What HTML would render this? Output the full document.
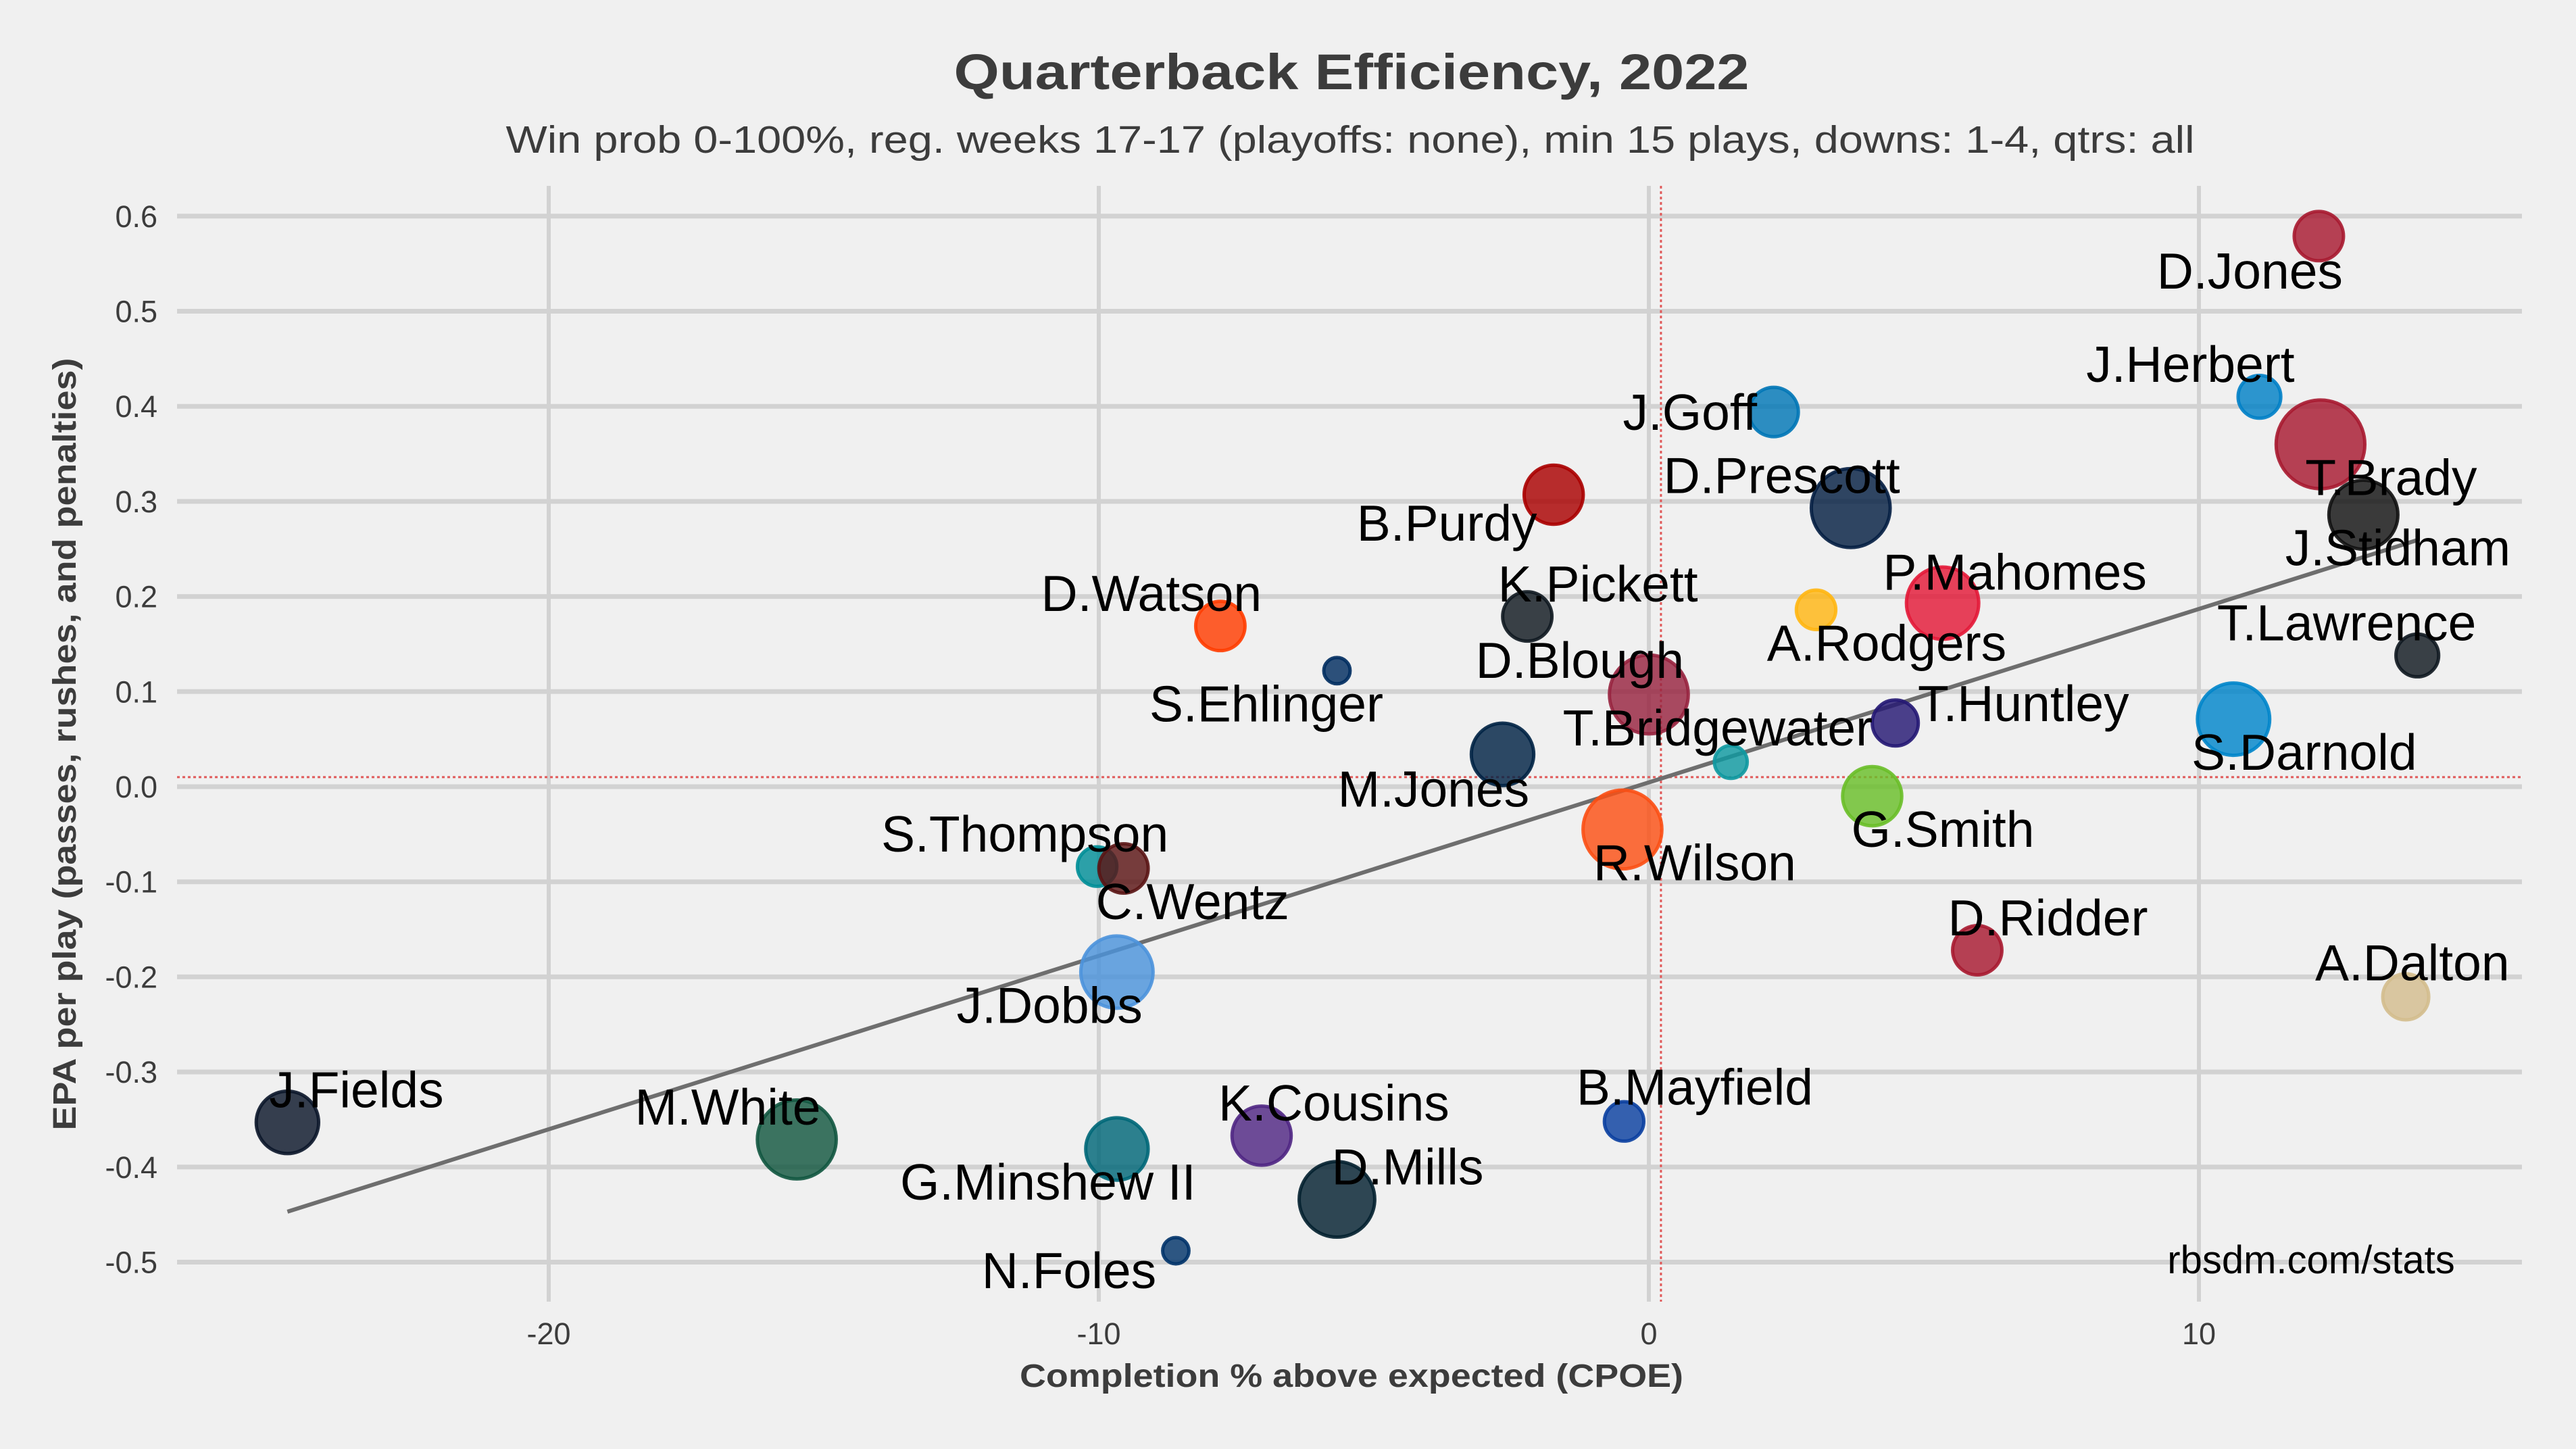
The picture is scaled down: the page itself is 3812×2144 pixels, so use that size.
<!DOCTYPE html>
<html><head><meta charset="utf-8"><style>
html,body{margin:0;padding:0;background:#f0f0f0;}
svg{display:block;font-family:"Liberation Sans",sans-serif;}
</style></head><body>
<svg id="chart" width="3812" height="2144" viewBox="0 0 3812 2144" xmlns="http://www.w3.org/2000/svg">
<rect x="0" y="0" width="3812" height="2144" fill="#f0f0f0"/>
<g id="grid"></g>
<g id="refs"></g>
<g id="trend"></g>
<g id="points"></g>
<g id="labels"></g>
<g id="ticks"></g>
<text x="2000" y="132" text-anchor="middle" font-size="74" font-weight="bold" fill="#3c3c3c" textLength="1177" lengthAdjust="spacingAndGlyphs">Quarterback Efficiency, 2022</text>
<text x="1998" y="226" text-anchor="middle" font-size="57" fill="#3c3c3c" textLength="2499" lengthAdjust="spacingAndGlyphs">Win prob 0-100%, reg. weeks 17-17 (playoffs: none), min 15 plays, downs: 1-4, qtrs: all</text>
<text x="2000" y="2052" text-anchor="middle" font-size="48" font-weight="bold" fill="#3c3c3c" textLength="982" lengthAdjust="spacingAndGlyphs">Completion % above expected (CPOE)</text>
<text transform="translate(112,1101) rotate(-90)" text-anchor="middle" font-size="48" font-weight="bold" fill="#3c3c3c" textLength="1143" lengthAdjust="spacingAndGlyphs">EPA per play (passes, rushes, and penalties)</text>
<text x="3420" y="1884" text-anchor="middle" font-size="58" fill="#000">rbsdm.com/stats</text>
</svg>
<script>
const names=["D.Jones","J.Herbert","T.Brady","J.Stidham","T.Lawrence","S.Darnold","A.Dalton","D.Ridder","G.Smith","T.Huntley","P.Mahomes","A.Rodgers","D.Prescott","J.Goff","T.Bridgewater","R.Wilson","D.Blough","K.Pickett","B.Purdy","M.Jones","S.Ehlinger","D.Watson","S.Thompson","C.Wentz","J.Dobbs","J.Fields","M.White","G.Minshew II","K.Cousins","D.Mills","B.Mayfield","N.Foles"];
const cpoe=[12.18,11.10,12.21,12.99,13.97,10.63,13.76,5.97,4.06,4.48,5.34,3.04,3.67,2.27,1.49,-0.48,0.0,-2.21,-1.73,-2.66,-5.67,-7.79,-10.03,-9.55,-9.67,-24.75,-15.49,-9.67,-7.04,-5.67,-0.45,-8.60];
const epa=[0.579,0.410,0.360,0.286,0.138,0.071,-0.221,-0.172,-0.010,0.067,0.193,0.186,0.293,0.394,0.026,-0.045,0.097,0.179,0.307,0.034,0.122,0.169,-0.084,-0.086,-0.195,-0.353,-0.371,-0.381,-0.367,-0.434,-0.352,-0.488];
const plays=[15,13,27,21,13,22,14,15,18,14,22,12,24,15,10,24,24,15,18,19,8,15,12,15,22,19,24,19,18,23,12,8];
const colors=["#a71930","#0080c6","#a71930","#111111","#101820","#0085ca","#d3bc8d","#a71930","#69be28","#241773","#e31837","#ffb612","#041e42","#0076b6","#0e98a0","#fb4f14","#97233f","#101820","#aa0000","#002244","#002c5f","#ff3c00","#008e97","#5a1414","#4b92db","#0b162a","#125740","#006778","#4f2683","#03202f","#0a3fa0","#013369"];
const xTicks=[-20,-10,0,10];
const yTicks=[-0.5,-0.4,-0.3,-0.2,-0.1,0.0,0.1,0.2,0.3,0.4,0.5,0.6];
const yTickLabels=["-0.5","-0.4","-0.3","-0.2","-0.1","0.0","0.1","0.2","0.3","0.4","0.5","0.6"];
const refX=[0.22];
const refY=[0.01];
const trendSlope=[0.01824];
const trendIntercept=[0.0045];
// label layout (display offsets, not data)
const labelDx=[-42,-42,43,21,-43,43,4,43,43,78,44,43,-42,-51,-8,44,-42,43,-65,-42,-43,-42,-44,42,-41,42,-42,-42,44,43,43,-65];
const labelDy=[22,-19,21,21,-19,21,-20,-19,21,-11,-18,21,-19,1,-20,21,-20,-19,18,22,21,-19,-19,21,21,-19,-19,21,-19,-19,-20,13];

const NS="http://www.w3.org/2000/svg";
const S=2.431;
const X=v=>2440+v*81.4;
const Y=v=>1164-v*1407;
const L=262,R=3732,T=275,B=1926;
function mk(tag,attrs,parent){const e=document.createElementNS(NS,tag);for(const k in attrs)e.setAttribute(k,attrs[k]);parent.appendChild(e);return e;}
const grid=document.getElementById('grid');
yTicks.forEach((t,i)=>{
  const ln=mk('line',{x1:L,x2:R,y1:Y(t),y2:Y(t),stroke:'#d2d2d2','stroke-width':7},grid);
  
  
});
xTicks.forEach(t=>{
  const ln=mk('line',{x1:X(t),x2:X(t),y1:T,y2:B,stroke:'#d2d2d2','stroke-width':6},grid);
  
  
});
const ticks=document.getElementById('ticks');
yTicks.forEach((t,i)=>{
  const tx=mk('text',{x:233,y:Y(t)+16,'text-anchor':'end','font-size':45,fill:'#3c3c3c'},ticks);
  tx.textContent=yTickLabels[i];
  
  
});
xTicks.forEach(t=>{
  const tx=mk('text',{x:X(t),y:1989,'text-anchor':'middle','font-size':45,fill:'#3c3c3c'},ticks);
  tx.textContent=String(t);
  
  
});
const refs=document.getElementById('refs');
refY.forEach(v=>{
  const ln=mk('line',{x1:L,x2:R,y1:Y(v),y2:Y(v),stroke:'#e05a5a','stroke-width':3,'stroke-dasharray':'4,4'},refs);
  
  
});
refX.forEach(v=>{
  const ln=mk('line',{x1:X(v),x2:X(v),y1:T,y2:B,stroke:'#e05a5a','stroke-width':3,'stroke-dasharray':'4,4'},refs);
  
  
});
const pts=document.getElementById('points');
const labs=document.getElementById('labels');
names.forEach((n,i)=>{
  const c=mk('circle',{cx:X(cpoe[i]),cy:Y(epa[i]),r:plays[i]*S,fill:colors[i],'fill-opacity':0.82,stroke:colors[i],'stroke-width':5,'stroke-opacity':0.9},pts);
  
  
});
const xmin=Math.min(...cpoe),xmax=Math.max(...cpoe);
const tl=mk('line',{x1:X(xmin),y1:Y(trendIntercept[0]+trendSlope[0]*xmin),x2:X(xmax),y2:Y(trendIntercept[0]+trendSlope[0]*xmax),stroke:'#6e6e6e','stroke-width':6},document.getElementById('trend'));


names.forEach((n,i)=>{
  const t=mk('text',{x:X(cpoe[i])+labelDx[i]*S,y:Y(epa[i])+labelDy[i]*S+24,'text-anchor':'middle','font-size':75,fill:'#000'},labs);
  t.textContent=n;
  
  
});
</script>
</body></html>
